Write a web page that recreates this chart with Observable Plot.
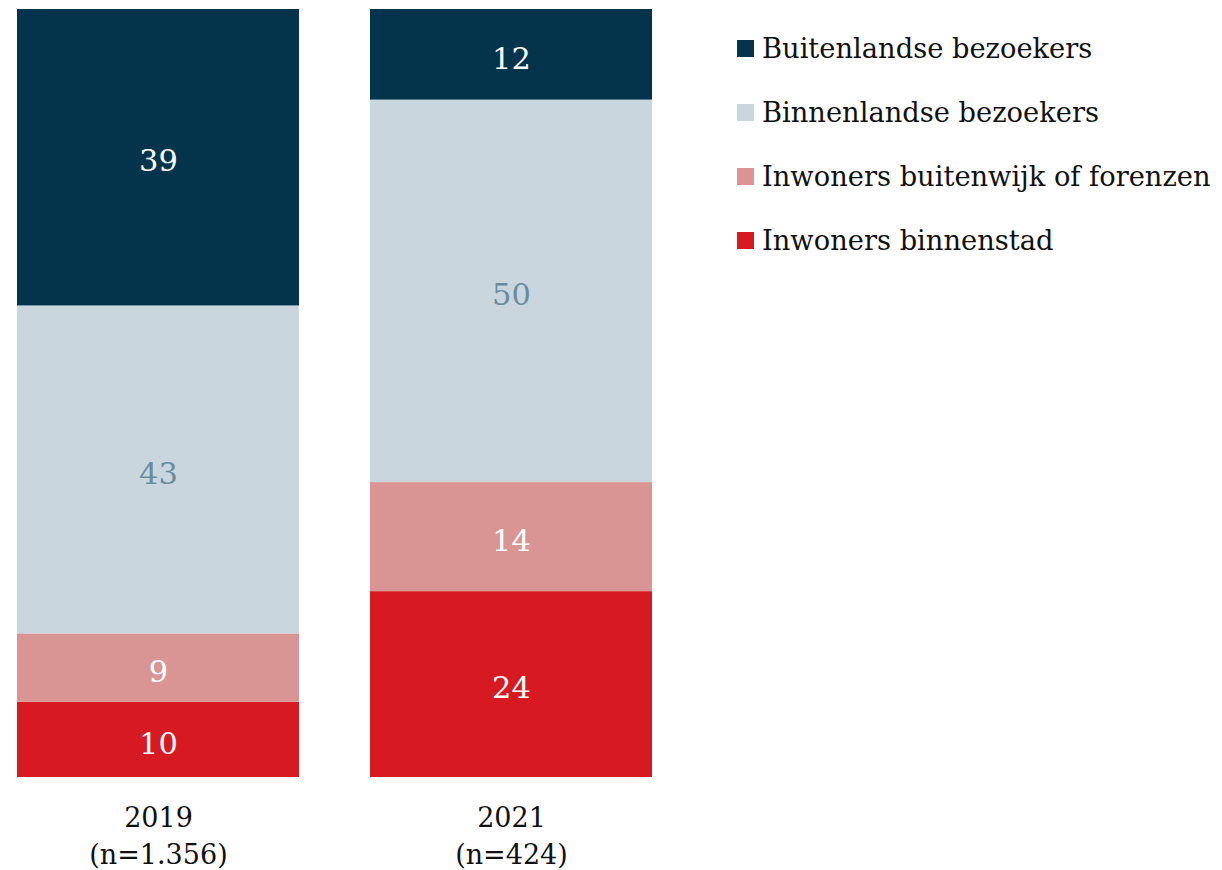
<!DOCTYPE html>
<html>
<head>
<meta charset="utf-8">
<script src="https://cdn.jsdelivr.net/npm/d3@7"></script>
<script src="https://cdn.jsdelivr.net/npm/@observablehq/plot@0.6"></script>
<style>
  html, body { margin: 0; padding: 0; background: #fff; }
  #wrap { position: relative; width: 1222px; height: 870px; font-family: "DejaVu Serif", Georgia, serif; }
  #legend { position: absolute; left: 737px; top: 28px; }
  .item { display: flex; align-items: center; height: 40px; margin-bottom: 24px; font-size: 27.3px; color: #111; white-space: nowrap; }
  .sw { width: 17px; height: 17px; margin-right: 8px; flex: none; }
</style>
</head>
<body>
<div id="wrap"><div id="legend"></div></div>
<script>
// Data (percentages; labels are shown rounded)
const years = ["2019", "2021"];
const sampleLabels = ["(n=1.356)", "(n=424)"];
const categories = ["Inwoners binnenstad", "Inwoners buitenwijk of forenzen", "Binnenlandse bezoekers", "Buitenlandse bezoekers"];
const values2019 = [9.8, 8.9, 42.7, 38.6];
const values2021 = [24.2, 14.2, 49.8, 11.8];
const colors = ["#d71a21", "#d99594", "#c9d6dd", "#04344c"];
const labelColors = ["#ffffff", "#ffffff", "#6a8d9e", "#ffffff"];
const legendOrder = ["Buitenlandse bezoekers", "Binnenlandse bezoekers", "Inwoners buitenwijk of forenzen", "Inwoners binnenstad"];

const seriesByYear = {"2019": values2019, "2021": values2021};
const data = [];
for (const y of years) {
  categories.forEach((c, i) => data.push({year: y, category: c, value: seriesByYear[y][i], labelColor: labelColors[i]}));
}

const stackOpts = {x: "year", y: "value", z: "category", offset: "normalize", order: categories};

const chart = Plot.plot({
  width: 670,
  height: 870,
  marginLeft: 17,
  marginRight: 17,
  marginTop: 9,
  marginBottom: 93,
  style: {fontFamily: '"DejaVu Serif", Georgia, serif', background: "transparent"},
  x: {domain: years, paddingInner: 0.2, paddingOuter: 0, axis: null},
  y: {axis: null},
  color: {domain: categories, range: colors},
  marks: [
    Plot.barY(data, Plot.stackY({...stackOpts, fill: "category"})),
    Plot.text(data, Plot.stackY({...stackOpts, text: d => String(Math.round(d.value)), fill: "labelColor", fontSize: 30.5, dy: 4})),
    Plot.axisX({
      domain: years,
      label: null,
      tickSize: 0,
      tickPadding: 24,
      fontSize: 27,
      lineHeight: 1.35,
      fill: "#111",
      tickFormat: d => d + "\n" + sampleLabels[years.indexOf(d)]
    })
  ]
});
document.getElementById("wrap").prepend(chart);

const legend = document.getElementById("legend");
for (const c of legendOrder) {
  const it = document.createElement("div");
  it.className = "item";
  const sw = document.createElement("div");
  sw.className = "sw";
  sw.style.background = colors[categories.indexOf(c)];
  const t = document.createElement("span");
  t.textContent = c;
  it.appendChild(sw);
  it.appendChild(t);
  legend.appendChild(it);
}
</script>
</body>
</html>
